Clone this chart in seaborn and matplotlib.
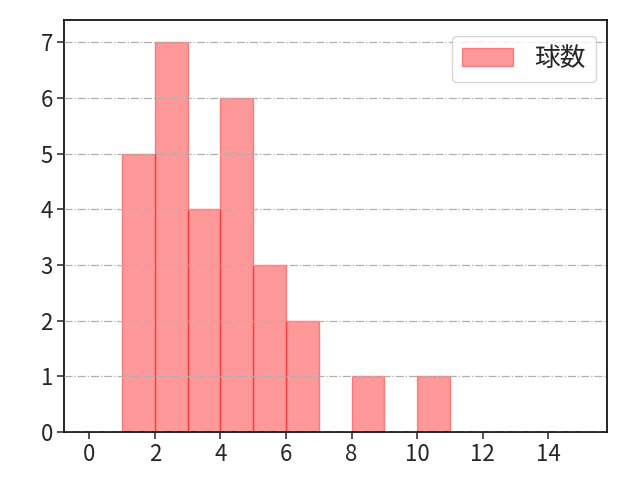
import seaborn as sns
import matplotlib.pyplot as plt
import pandas as pd

# pitch counts per outing
pitches = [1, 1, 1, 1, 1,
           2, 2, 2, 2, 2, 2, 2,
           3, 3, 3, 3,
           4, 4, 4, 4, 4, 4,
           5, 5, 5,
           6, 6,
           8,
           10]
bin_edges = list(range(0, 16))
label = '球数'

sns.set_theme(style='ticks')
plt.rcParams['font.family'] = ['Noto Sans CJK JP', 'DejaVu Sans']

df = pd.DataFrame({label: pitches})

fig, ax = plt.subplots(figsize=(6.4, 4.8), dpi=100)
sns.histplot(data=df, x=label, bins=bin_edges, color='red', alpha=0.4,
             edgecolor=(1, 0, 0, 0.4), linewidth=1, label=label, ax=ax)

ax.set_xlim(-0.77, 15.8)
ax.set_ylim(0, 7.4)
ax.set_xticks(range(0, 15, 2))
ax.set_yticks(range(0, 8))
ax.set_xlabel('')
ax.set_ylabel('')
ax.tick_params(labelsize=16, direction='out', length=5, width=1.1, pad=3)
ax.set_axisbelow(False)
ax.grid(axis='y', color='#b0b0b0', linestyle='-.', linewidth=0.9)
for s in ax.spines.values():
    s.set_color('black')
    s.set_linewidth(1.2)
ax.legend(loc='upper right', bbox_to_anchor=(1.0, 0.99), fontsize=18.5,
          handlelength=2.0, handletextpad=0.8, borderpad=0.4,
          borderaxespad=0.45)

plt.subplots_adjust(left=0.1, right=0.949, top=0.958, bottom=0.1)
plt.savefig('out.png', dpi=100)
